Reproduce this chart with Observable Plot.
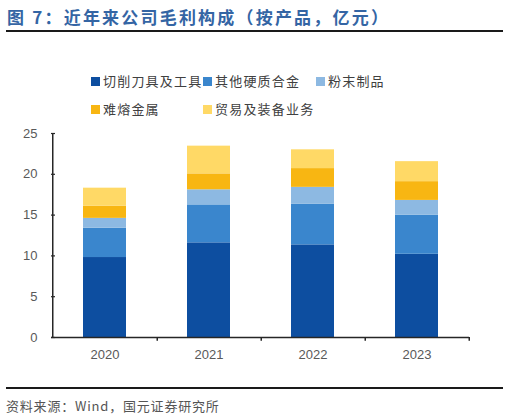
<!DOCTYPE html>
<html><head><meta charset="utf-8">
<script src="https://cdn.jsdelivr.net/npm/d3@7"></script>
<script src="https://cdn.jsdelivr.net/npm/@observablehq/plot@0.6"></script>
<style>
body{margin:0;background:#fff;width:509px;height:418px;position:relative;overflow:hidden;font-family:"Noto Sans CJK SC",sans-serif;}
#title{position:absolute;left:7px;top:4px;font-size:17px;font-weight:bold;color:#3465A4;letter-spacing:2.2px;white-space:nowrap;}
.hr{position:absolute;left:6px;width:497px;height:2px;background:#1a1a1a;}
#legend{position:absolute;left:0;top:72px;width:509px;height:50px;}
.li{position:absolute;font-size:13px;color:#404040;white-space:nowrap;letter-spacing:1.2px;line-height:18px;}
.sw{display:inline-block;width:9px;height:9px;margin-right:3px;vertical-align:0px;}
#chart{position:absolute;left:0;top:120px;}
#caption{position:absolute;left:6px;top:396px;font-size:13px;color:#555;letter-spacing:0.8px;white-space:nowrap;}
</style></head>
<body>
<div id="title">图 7：近年来公司毛利构成（按产品，亿元）</div>
<div class="hr" style="top:30px"></div>
<div id="legend"></div>
<div id="chart"></div>
<div class="hr" style="top:387px"></div>
<div id="caption">资料来源：Wind，国元证券研究所</div>
<script>
const years = ["2020", "2021", "2022", "2023"];
const seriesNames = ["切削刀具及工具", "其他硬质合金", "粉末制品", "难熔金属", "贸易及装备业务"];
const cutting = [9.8, 11.6, 11.35, 10.2];
const hardAlloy = [3.6, 4.65, 5.0, 4.8];
const powder = [1.2, 1.85, 2.05, 1.8];
const refractory = [1.5, 1.95, 2.3, 2.3];
const trade = [2.2, 3.4, 2.3, 2.45];
const colors = ["#0D4EA0", "#3A86CD", "#8DB9E2", "#F8B612", "#FFD966"];
const yTicks = [0, 5, 10, 15, 20, 25];

const seriesValues = [cutting, hardAlloy, powder, refractory, trade];
const data = [];
seriesNames.forEach((s, i) => years.forEach((y, j) => data.push({year: y, series: s, value: seriesValues[i][j]})));

// legend
const legend = document.getElementById("legend");
const pos = [[91, 0], [203, 0], [316, 0], [91, 28], [203, 28]];
seriesNames.forEach((s, i) => {
  const d = document.createElement("div");
  d.className = "li";
  d.style.left = pos[i][0] + "px";
  d.style.top = pos[i][1] + "px";
  d.innerHTML = `<span class="sw" style="background:${colors[i]}"></span>${s}`;
  legend.appendChild(d);
});

const W = 509, H = 250, ml = 51, mr = 40;
const step = (W - ml - mr) / years.length;

const chart = Plot.plot({
  width: W, height: H,
  marginLeft: ml, marginRight: mr, marginTop: 13, marginBottom: 33,
  style: {fontFamily: "'Liberation Sans', Arial, sans-serif", fontSize: "13px", color: "#595959", overflow: "visible"},
  x: {domain: years, paddingInner: 0.59, paddingOuter: 0.295, label: null},
  y: {domain: [0, 25], ticks: yTicks, label: null},
  color: {domain: seriesNames, range: colors},
  marks: [
    Plot.barY(data, {x: "year", y: "value", fill: "series", order: seriesNames}),
    Plot.axisY({ticks: yTicks, tickSize: 0, tickPadding: 14, fontSize: 13, fill: "#595959"}),
    Plot.tickY(yTicks, {y: d => d, stroke: "#262626", strokeWidth: 1.2, insetLeft: 0, insetRight: W - ml - mr - 4}),
    Plot.axisX({tickSize: 0, tickPadding: 12, fontSize: 13, fill: "#595959"}),
    Plot.ruleX(years, {x: d => d, y1: 0, y2: -0.45, dx: step / 2, stroke: "#262626", strokeWidth: 1.5}),
    Plot.ruleY([0], {stroke: "#262626", strokeWidth: 1.5}),
    Plot.ruleX([years[0]], {x: d => d, y1: 0, y2: 25, dx: -step / 2, stroke: "#262626", strokeWidth: 1.5})
  ]
});
document.getElementById("chart").appendChild(chart);
</script>
</body></html>
